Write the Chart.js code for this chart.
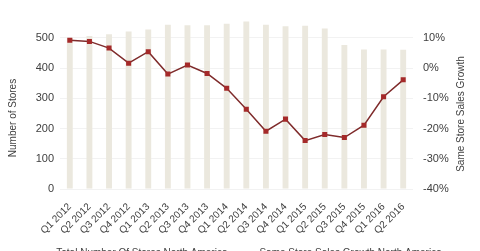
<!DOCTYPE html>
<html>
<head>
<meta charset="utf-8">
<script src="https://cdn.jsdelivr.net/npm/chart.js@4"></script>
<style>
  html, body { margin: 0; padding: 0; background: #fff; overflow: hidden; }
  #wrap { width: 480px; height: 268px; position: relative; }
</style>
</head>
<body>
<div id="wrap"><canvas id="chartToko"></canvas></div>
<script>
const quarters = ['Q1 2012', 'Q2 2012', 'Q3 2012', 'Q4 2012', 'Q1 2013', 'Q2 2013', 'Q3 2013', 'Q4 2013',
  'Q1 2014', 'Q2 2014', 'Q3 2014', 'Q4 2014', 'Q1 2015', 'Q2 2015', 'Q3 2015', 'Q4 2015', 'Q1 2016', 'Q2 2016'];
const totalStores = [500, 506, 512, 521, 527, 543, 541, 541, 546, 554, 543, 538, 540, 531, 476, 461, 461, 460];
const sameStoreGrowth = [9.2, 8.8, 6.6, 1.6, 5.4, -2.0, 1.0, -1.8, -6.7, -13.6, -20.9, -16.9, -24.0, -22.0, -23.0, -18.9, -9.5, -3.9];
const storeTicks = [0, 100, 200, 300, 400, 500];
const growthTicks = [-40, -30, -20, -10, 0, 10];

const fontTick = { family: 'Liberation Sans, Arial, sans-serif', size: 11 };
const fontKecil = { family: 'Liberation Sans, Arial, sans-serif', size: 10 };
const warnaTeks = '#404040';

// judul sumbu digambar manual supaya posisinya mirip
const judulSumbu = {
  id: 'judulSumbu',
  afterDraw(chart) {
    const ctx = chart.ctx;
    const tulis = (teks, x, y) => {
      ctx.save();
      ctx.fillStyle = warnaTeks;
      ctx.font = '10px Liberation Sans, Arial, sans-serif';
      ctx.textAlign = 'center';
      ctx.textBaseline = 'middle';
      ctx.translate(x, y);
      ctx.rotate(-Math.PI / 2);
      ctx.fillText(teks, 0, 0);
      ctx.restore();
    };
    tulis('Number of Stores', 13, 118);
    tulis('Same Store Sales Growth', 461, 114);
  }
};

const ctx = document.getElementById('chartToko').getContext('2d');
new Chart(ctx, {
  type: 'bar',
  data: {
    labels: quarters,
    datasets: [{
      type: 'bar',
      label: 'Total Number Of Stores North America',
      data: totalStores,
      backgroundColor: '#ebe8de',
      borderWidth: 0,
      barPercentage: 0.6,
      categoryPercentage: 0.5,
      yAxisID: 'y',
      order: 1
    }, {
      type: 'line',
      label: 'Same Store Sales Growth North America',
      data: sameStoreGrowth,
      borderColor: '#7f2b2b',
      borderWidth: 1.5,
      pointStyle: 'rect',
      pointRadius: 2.5,
      pointBackgroundColor: '#a52a2a',
      pointBorderColor: '#a52a2a',
      tension: 0,
      yAxisID: 'y1',
      order: 0
    }]
  },
  options: {
    responsive: true,
    maintainAspectRatio: false,
    animation: false,
    layout: { padding: { top: 2, left: 0, right: 0, bottom: 0 } },
    plugins: {
      legend: {
        position: 'bottom',
        labels: {
          font: fontKecil,
          color: warnaTeks,
          boxWidth: 13,
          boxHeight: 3,
          padding: 14,
          sort: (a, b) => a.datasetIndex - b.datasetIndex,
          generateLabels: function(chart) {
            const items = Chart.defaults.plugins.legend.labels.generateLabels(chart);
            items.forEach(it => {
              const warna = it.datasetIndex === 0 ? '#ebe8de' : '#7f2b2b';
              it.fillStyle = warna;
              it.strokeStyle = warna;
              it.lineWidth = 0;
            });
            return items;
          }
        }
      },
      tooltip: { enabled: false }
    },
    scales: {
      x: {
        grid: { display: false },
        border: { display: false },
        afterFit: function(scale) { scale.height = 45; },
        ticks: {
          font: fontKecil,
          color: warnaTeks,
          minRotation: 45,
          maxRotation: 45,
          autoSkip: false,
          padding: 4
        }
      },
      y: {
        position: 'left',
        min: 0,
        max: 570,
        afterFit: function(scale) { scale.width = 60; },
        afterBuildTicks: function(scale) {
          scale.ticks = storeTicks.map(v => ({ value: v }));
        },
        grid: { color: 'rgba(0, 0, 0, 0.05)', drawTicks: false },
        border: { display: false },
        ticks: { font: fontTick, color: warnaTeks, padding: 6 }
      },
      y1: {
        position: 'right',
        min: -40,
        max: 17,
        afterFit: function(scale) { scale.width = 67; },
        afterBuildTicks: function(scale) {
          scale.ticks = growthTicks.map(v => ({ value: v }));
        },
        grid: { display: false, drawTicks: false },
        border: { display: false },
        ticks: {
          font: fontTick,
          color: warnaTeks,
          padding: 10,
          callback: function(value) { return value + '%'; }
        }
      }
    }
  },
  plugins: [judulSumbu]
});
</script>
</body>
</html>
